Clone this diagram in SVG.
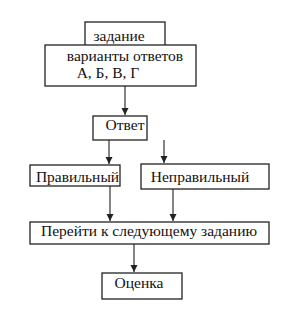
<svg xmlns="http://www.w3.org/2000/svg" width="293" height="318" viewBox="0 0 293 318">
<defs>
<style>
.box{fill:#fff;stroke:#222;stroke-width:1.3}
.t{font-family:"Liberation Serif",serif;font-size:15.5px;fill:#111;text-anchor:middle}
.c{stroke:#333;stroke-width:1.2;fill:none}
</style>
<marker id="ah" markerWidth="8" markerHeight="8" refX="7" refY="4" orient="auto" markerUnits="userSpaceOnUse">
<path d="M0,0.5 L7,4 L0,7.5 Z" fill="#222"/>
</marker>
</defs>
<rect width="293" height="318" fill="#fff"/>
<g id="connectors">
<line class="c" x1="125" y1="86" x2="125" y2="115" marker-end="url(#ah)"/>
<line class="c" x1="109" y1="140" x2="109" y2="164" marker-end="url(#ah)"/>
<line class="c" x1="164" y1="140" x2="164" y2="163" marker-end="url(#ah)"/>
<line class="c" x1="110" y1="186" x2="110" y2="221" marker-end="url(#ah)"/>
<line class="c" x1="173" y1="189" x2="173" y2="221" marker-end="url(#ah)"/>
<line class="c" x1="134" y1="244" x2="134" y2="272" marker-end="url(#ah)"/>
</g>
<g id="zadanie">
<rect class="box" x="85" y="22" width="80" height="24"/>
<text class="t" x="119" y="41">задание</text>
</g>
<g id="varianty">
<rect class="box" x="45" y="45" width="151" height="41"/>
<text class="t" x="125" y="61">варианты ответов</text>
<text class="t" x="108" y="78">А, Б, В, Г</text>
</g>
<g id="otvet">
<rect class="box" x="93" y="116" width="54" height="24"/>
<text class="t" x="125" y="130">Ответ</text>
</g>
<g id="pravilny">
<rect class="box" x="30" y="165" width="90" height="21"/>
<text class="t" x="77.5" y="182">Правильный</text>
</g>
<g id="nepravilny">
<rect class="box" x="141" y="164" width="128" height="25"/>
<text class="t" x="200" y="182">Неправильный</text>
</g>
<g id="pereyti">
<rect class="box" x="30" y="222" width="239" height="22"/>
<text class="t" x="149" y="236">Перейти к следующему заданию</text>
</g>
<g id="otsenka">
<rect class="box" x="102" y="273" width="80" height="26"/>
<text class="t" x="139" y="288">Оценка</text>
</g>
</svg>
